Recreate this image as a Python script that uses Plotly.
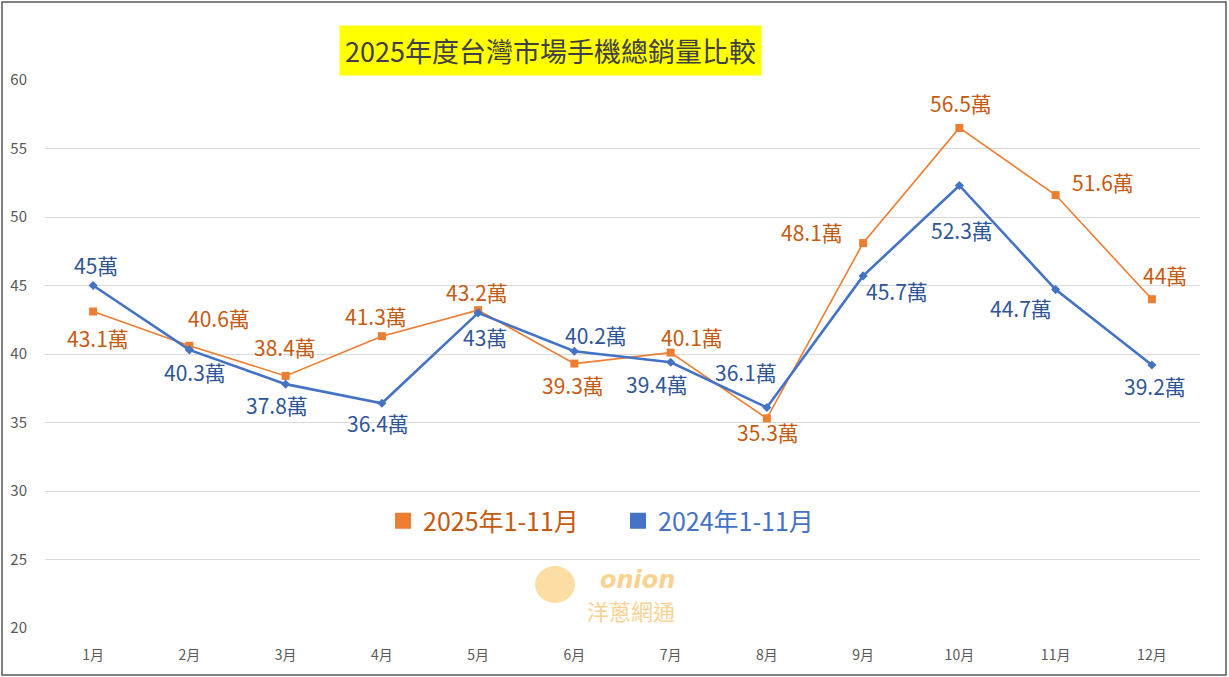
import plotly.graph_objects as go

months = ["1月", "2月", "3月", "4月", "5月", "6月", "7月", "8月", "9月", "10月", "11月", "12月"]
sales_2025 = [43.1, 40.6, 38.4, 41.3, 43.2, 39.3, 40.1, 35.3, 48.1, 56.5, 51.6, 44]
sales_2024 = [45, 40.3, 37.8, 36.4, 43, 40.2, 39.4, 36.1, 45.7, 52.3, 44.7, 39.2]
y_ticks = [20, 25, 30, 35, 40, 45, 50, 55, 60]

# label offsets in pixels (dx, dy) relative to the point
off_2025 = [(5, -26), (30, 28), (-1, 29), (-6, 20), (-1, 18), (-1, -21), (21, 16), (1, -14), (-51, 11), (2, 25), (47, 13), (13, 24)]
off_2024 = [(3, 21), (6, -22), (-9, -21), (-4, -20), (7, -24), (22, 16), (-14, -22), (-21, 35), (34, -15), (3, -45), (-35, -18), (3, -21)]

FONT = "Noto Sans CJK TC, Noto Sans CJK SC, sans-serif"
C25_LINE, C25_TXT = "#ED7D31", "#C55A11"
C24_LINE, C24_TXT = "#4472C4", "#2F5597"

def px(x):
    return (x - 45) / 1155

def py(y):
    return (628 - y) / 548

fig = go.Figure()
fig.add_trace(go.Scatter(x=months, y=sales_2025, mode="lines+markers",
                         line=dict(color=C25_LINE, width=1.6),
                         marker=dict(symbol="square", size=8, color=C25_LINE),
                         showlegend=False))
fig.add_trace(go.Scatter(x=months, y=sales_2024, mode="lines+markers",
                         line=dict(color=C24_LINE, width=2.6),
                         marker=dict(symbol="diamond", size=7, color=C24_LINE),
                         showlegend=False))
# legend entries
fig.add_trace(go.Scatter(x=[None], y=[None], mode="markers",
                         marker=dict(symbol="square", size=16, color=C25_LINE),
                         name="<span style='color:#C55A11'>2025年1-11月</span>"))
fig.add_trace(go.Scatter(x=[None], y=[None], mode="markers",
                         marker=dict(symbol="square", size=16, color=C24_LINE),
                         name="<span style='color:#4472C4'>2024年1-11月</span>"))

ann = []
for m, v, (dx, dy) in zip(months, sales_2025, off_2025):
    ann.append(dict(x=m, y=v, xref="x", yref="y", text=f"{v:g}萬", showarrow=False,
                    xanchor="center", yanchor="middle",
                    xshift=dx, yshift=dy, font=dict(family=FONT, size=21, color=C25_TXT)))
for m, v, (dx, dy) in zip(months, sales_2024, off_2024):
    ann.append(dict(x=m, y=v, xref="x", yref="y", text=f"{v:g}萬", showarrow=False,
                    xanchor="center", yanchor="middle",
                    xshift=dx, yshift=dy, font=dict(family=FONT, size=21, color=C24_TXT)))

# title
ann.append(dict(x=px(550), y=py(50), xref="paper", yref="paper", xanchor="center", yanchor="middle",
                text="2025年度台灣市場手機總銷量比較", showarrow=False, bgcolor="#FFFF00",
                borderpad=5, font=dict(family=FONT, size=27, color="#404040")))
# watermark
ann.append(dict(x=px(637), y=py(580), xref="paper", yref="paper", xanchor="center", yanchor="middle",
                text="<b><i>onion</i></b>", showarrow=False,
                font=dict(family="DejaVu Sans, sans-serif", size=24, color="#F9CB7E"), opacity=0.85))
ann.append(dict(x=px(631), y=py(610), xref="paper", yref="paper", xanchor="center", yanchor="middle",
                text="洋蔥網通", showarrow=False,
                font=dict(family=FONT, size=22, color="#F9CB7E"), opacity=0.85))

shapes = [
    dict(type="rect", xref="paper", yref="paper",
         x0=px(2), x1=px(1226), y0=py(675), y1=py(2),
         line=dict(color="#595959", width=1.5), fillcolor="rgba(0,0,0,0)"),
    dict(type="circle", xref="paper", yref="paper",
         x0=px(535), x1=px(575), y0=py(603), y1=py(566),
         line=dict(width=0), fillcolor="#FBD68E", opacity=0.8),
]

fig.update_layout(
    width=1229, height=677,
    margin=dict(l=45, r=29, t=80, b=49),
    paper_bgcolor="white", plot_bgcolor="white",
    font=dict(family=FONT, color="#595959"),
    annotations=ann, shapes=shapes,
    legend=dict(orientation="h", x=px(383), xanchor="left", y=py(521), yanchor="middle",
                font=dict(family=FONT, size=25), bgcolor="rgba(0,0,0,0)", itemwidth=30,
                entrywidth=190, entrywidthmode="pixels", tracegroupgap=0),
    xaxis=dict(range=[-0.5, 11.5], showgrid=False, showline=False, zeroline=False, ticks="",
               automargin=False,
               tickfont=dict(family=FONT, size=14, color="#595959"), ticklabelstandoff=17),
    yaxis=dict(range=[20, 60], tickvals=y_ticks, showgrid=True, gridcolor="#D9D9D9", gridwidth=1,
               zeroline=False, showline=False, ticks="", automargin=False,
               tickfont=dict(family=FONT, size=15, color="#595959"), ticklabelstandoff=17),
)

fig.write_html("out.html")
